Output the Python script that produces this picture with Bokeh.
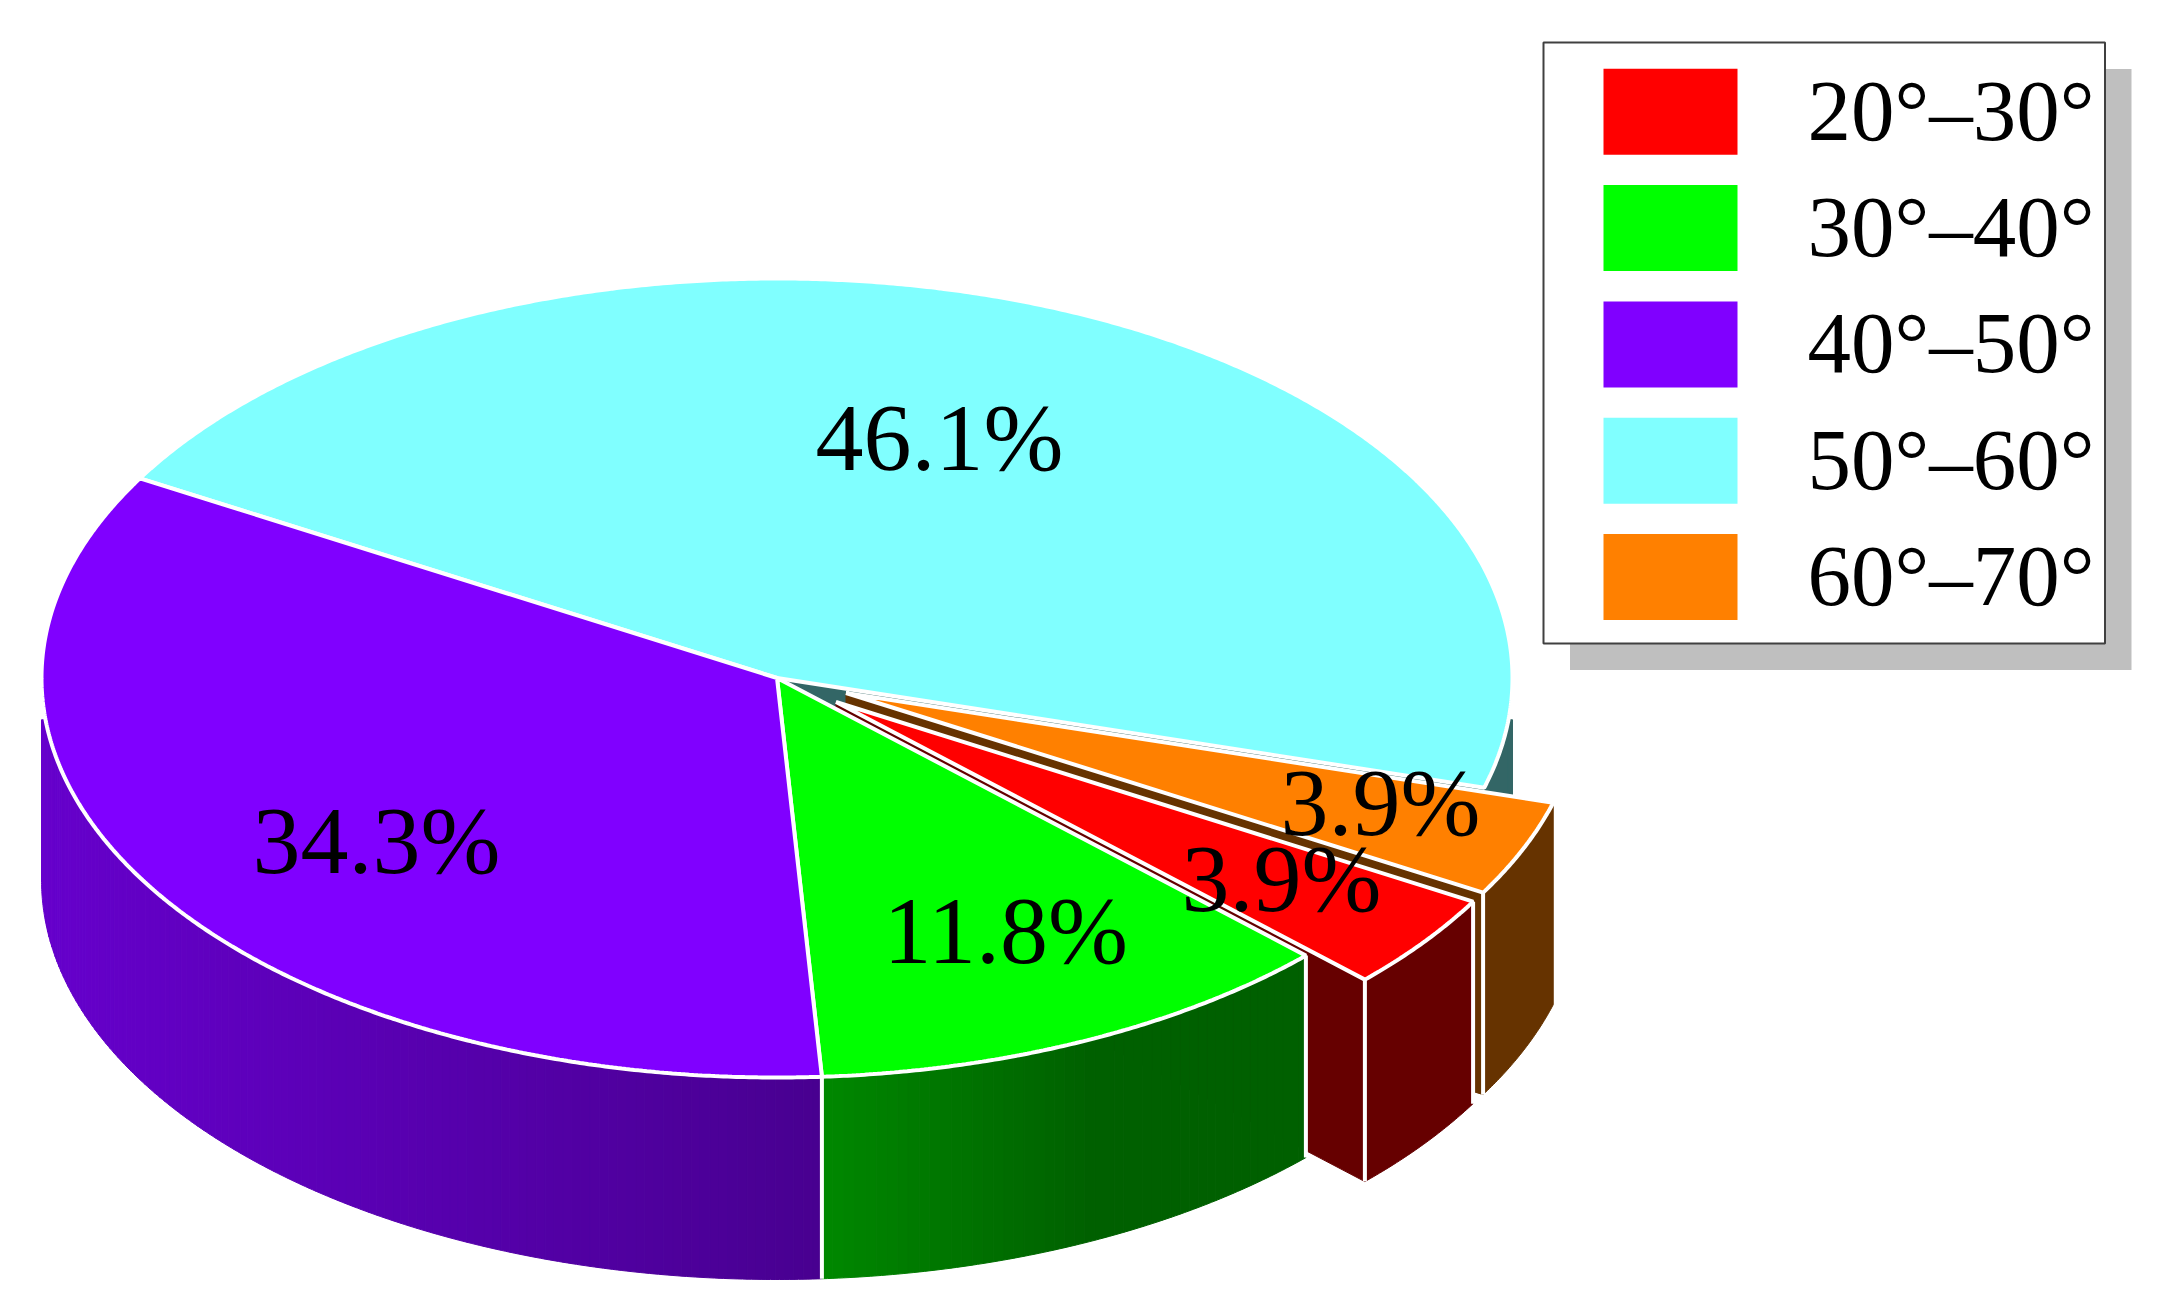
import math
from bokeh.plotting import figure
from bokeh.models import Range1d
from bokeh.core.properties import value
from bokeh.embed import file_html
from bokeh.resources import INLINE

# ---- data ----
categories = ["20°–30°", "30°–40°", "40°–50°", "50°–60°", "60°–70°"]
shares = [3.9, 11.8, 34.3, 46.1, 3.9]
share_labels = ["3.9%", "11.8%", "34.3%", "46.1%", "3.9%"]
top_colors = ["#ff0000", "#00ff00", "#8000ff", "#80ffff", "#ff8000"]
wall_colors = ["#660000", "#006000", "#440088", "#336666", "#663300"]

# ---- layout (reference pixels) ----
W, H = 2159, 1314
CX, CY, RX, RY, DEPTH = 776.5, 677.5, 735.5, 399.5, 202
START = -86.5            # purple/green boundary, degrees on the ellipse
HIDE = 6                 # the wall only shows this many degrees past the horizon
LINE = 4
offsets = [(59, 24), (0, 0), (0, 0), (0, 0), (69, 15)]
TEXT_DY = -34            # rendered baseline sits below the requested y
label_pos = [(1181, 912), (883, 964), (252, 874), (815, 471), (1280, 836)]

p = figure(width=W - 16, height=H - 16, x_range=Range1d(0, W - 16), y_range=Range1d(H - 16, 0),
           output_backend="svg", toolbar_location=None, min_border=0,
           outline_line_color=None, background_fill_color="white")
p.axis.visible = False
p.grid.visible = False


def pt(t, off=(0, 0), dz=0.0):
    r = math.radians(t)
    return CX + RX * math.cos(r) + off[0], CY - RY * math.sin(r) + off[1] + dz


def arc(t0, t1, off=(0, 0), dz=0.0, n=None):
    n = n or max(2, int(abs(t1 - t0) * 3) + 1)
    return [pt(t0 + (t1 - t0) * i / (n - 1), off, dz) for i in range(n)]


def poly(points, fill, line=None, width=0):
    p.patch([q[0] for q in points], [q[1] for q in points], fill_color=fill,
            line_color=line if line else fill, line_width=width if line else 1)


def wall(t0, t1, off, fill):
    poly(arc(t0, t1, off) + arc(t1, t0, off, DEPTH), fill)


def radial(t, off, fill):
    a = (CX + off[0], CY + off[1])
    b = pt(t, off)
    poly([a, b, (b[0], b[1] + DEPTH), (a[0], a[1] + DEPTH)], fill)


def sector(t0, t1, off, fill):
    poly([(CX + off[0], CY + off[1])] + arc(t0, t1, off), fill, "white", LINE)


def vline(t, off=(0, 0)):
    x, y = pt(t, off)
    p.line([x, x], [y, y + DEPTH], line_color="white", line_width=LINE)


def lerp(c0, c1, f):
    f = max(0.0, min(1.0, f))
    return "#%02x%02x%02x" % tuple(round(a + (b - a) * f) for a, b in zip(c0, c1))


def gradient_wall(t0, t1, x0, x1, c0, c1, strips):
    for i in range(strips):
        a = t0 + (t1 - t0) * i / strips
        b = t0 + (t1 - t0) * (i + 1) / strips
        xm = pt((a + b) / 2)[0]
        wall(a, b, (0, 0), lerp(c0, c1, (xm - x0) / (x1 - x0)))


# sector boundaries, counter-clockwise from the purple/green edge
deg = [s * 3.6 for s in shares]
g0, g1 = START, START + deg[1]
r0, r1 = g1, g1 + deg[0]
o0, o1 = r1, r1 + deg[4]
c0, c1 = o1, o1 + deg[3]
v0, v1 = c1, c1 + deg[2]

# cyan: walls behind everything
radial(o1, (0, 0), wall_colors[3])
wall(o1, -HIDE, (0, 0), wall_colors[3])
poly([(CX + RX, pt(-HIDE)[1]), pt(-HIDE)] + arc(-HIDE, 0, dz=DEPTH), wall_colors[3])
sector(c0, c1, (0, 0), top_colors[3])

# orange
off = offsets[4]
radial(o0, off, wall_colors[4])
wall(o0, o1, off, wall_colors[4])
vline(o0, off)
sector(o0, o1, off, top_colors[4])

# red
off = offsets[0]
radial(r0, off, wall_colors[0])
wall(r0, r1, off, wall_colors[0])
vline(r0, off)
vline(r1, off)
sector(r0, r1, off, top_colors[0])

# purple and green outer walls, shaded from left to right
purple_left, purple_right = (0x66, 0x00, 0xcc), (0x48, 0x00, 0x90)
green_left, green_right = (0x00, 0x88, 0x00), (0x00, 0x60, 0x00)
poly([(CX - RX, pt(180 + HIDE)[1]), pt(180 + HIDE)] + arc(180 + HIDE, 180, dz=DEPTH),
     lerp(purple_left, purple_right, 0))
gradient_wall(180 + HIDE, v1, CX - RX, pt(v1)[0], purple_left, purple_right, 120)
gradient_wall(g0, g1, pt(g0)[0], pt(g0)[0] + 270, green_left, green_right, 50)
vline(g0)
vline(g1)
sector(g0, g1, (0, 0), top_colors[1])
sector(v0, v1, (0, 0), top_colors[2])

# percentage labels
p.text([q[0] for q in label_pos], [q[1] + TEXT_DY for q in label_pos], text=share_labels,
       text_font=value("Liberation Serif"), text_font_size="96px", text_color="black",
       text_align="left", text_baseline="alphabetic")

# legend
BX0, BX1, BY0, BY1 = 1543, 2104.5, 42, 643
SHADOW_X, SHADOW_Y = 26.5, 26.5
p.quad(left=[BX0 + SHADOW_X], right=[BX1 + SHADOW_X], top=[BY0 + SHADOW_Y], bottom=[BY1 + SHADOW_Y],
       fill_color="#bfbfbf", line_color=None)
p.quad(left=[BX0], right=[BX1], top=[BY0], bottom=[BY1], fill_color="white",
       line_color="#404040", line_width=2)
ROW_TOP, ROW_STEP, ROW_H = 68.3, 116.3, 86
tops = [ROW_TOP + ROW_STEP * i for i in range(len(categories))]
p.quad(left=[1603] * 5, right=[1737] * 5, top=tops, bottom=[t + ROW_H for t in tops],
       fill_color=top_colors, line_color=None)
p.text([1807] * 5, [t + 75.5 + TEXT_DY for t in tops], text=categories,
       text_font=value("Liberation Serif"), text_font_size="87px", text_color="black",
       text_align="left", text_baseline="alphabetic")

open("out.html", "w").write(file_html(p, INLINE))
